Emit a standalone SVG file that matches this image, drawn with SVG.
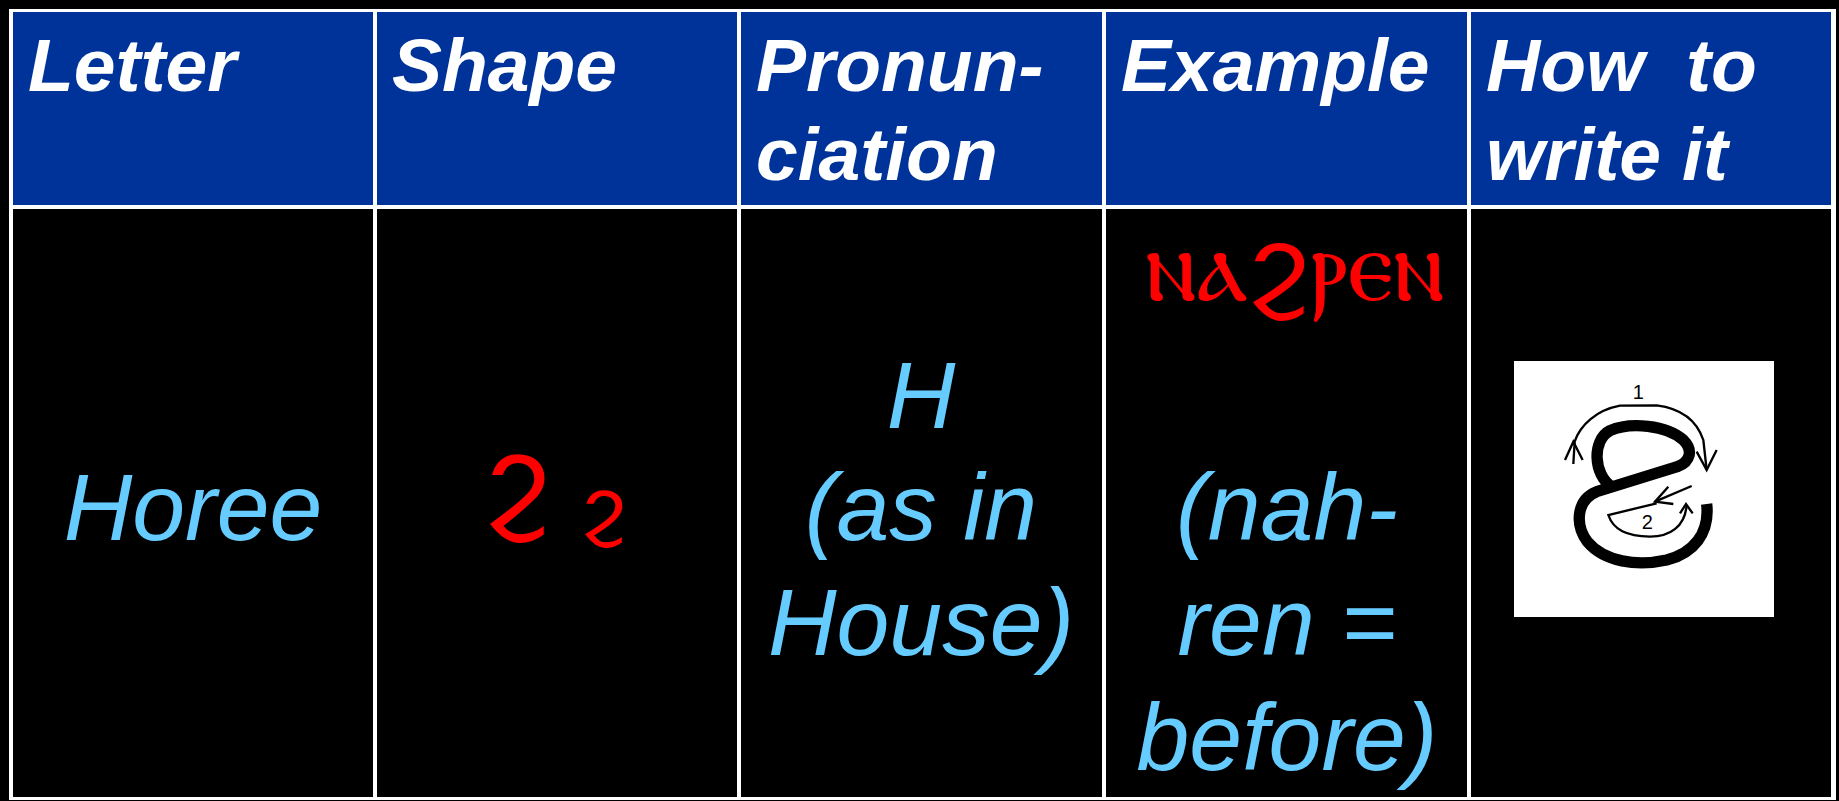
<svg xmlns="http://www.w3.org/2000/svg" width="1839" height="801" viewBox="0 0 1839 801">
<style>
.hd{fill:#003399}
.bd{fill:#000000}
.ht{font-family:"Liberation Sans",Arial,sans-serif;font-weight:bold;font-style:italic;font-size:75px;fill:#ffffff}
.bt{font-family:"Liberation Sans",Arial,sans-serif;font-style:italic;font-size:95px;fill:#66CCFF;text-anchor:middle}
.cop{font-family:"DejaVu Sans","Noto Sans",sans-serif;fill:#FF0000;text-anchor:middle}
.shp{font-family:"DejaVu Sans","Noto Sans",sans-serif;fill:#FF0000;text-anchor:middle}
.thick{fill:none;stroke:#000;stroke-width:34;stroke-linecap:butt;stroke-linejoin:round}
.thin{fill:none;stroke:#000;stroke-width:7;stroke-linecap:butt;stroke-linejoin:miter}
.num{font-family:"Liberation Sans",Arial,sans-serif;font-size:60px;fill:#000;text-anchor:middle}
</style>
<rect width="1839" height="801" fill="#000"/>
<rect x="9" y="9" width="1827" height="791" fill="#fff"/>

<g id="h-letter"><rect class="hd" x="13" y="12" width="360" height="193"/><text class="ht" x="28" y="91">Letter</text></g>
<g id="h-shape"><rect class="hd" x="377" y="12" width="360" height="193"/><text class="ht" x="392" y="91">Shape</text></g>
<g id="h-pron"><rect class="hd" x="741" y="12" width="361" height="193"/><text class="ht" x="756" y="91">Pronun-</text><text class="ht" x="756" y="180">ciation</text></g>
<g id="h-example"><rect class="hd" x="1106" y="12" width="361" height="193"/><text class="ht" x="1121" y="91">Example</text></g>
<g id="h-how"><rect class="hd" x="1471" y="12" width="360" height="193"/><text class="ht" x="1486" y="91" xml:space="preserve">How  to</text><text class="ht" x="1486" y="180">write it</text></g>

<g id="b-letter"><rect class="bd" x="13" y="209" width="360" height="588"/><text class="bt" x="193" y="540">Horee</text></g>
<g id="b-shape"><rect class="bd" x="377" y="209" width="360" height="588"/><text class="shp" x="518" y="524" font-size="92">Ϩ</text><text class="shp" x="604" y="532" font-size="74">ϩ</text></g>
<g id="b-pron"><rect class="bd" x="741" y="209" width="361" height="588"/><text class="bt" x="921" y="428">H</text><text class="bt" x="921" y="540">(as in</text><text class="bt" x="921" y="655">House)</text></g>
<g id="b-example"><rect class="bd" x="1106" y="209" width="361" height="588"/><text class="cop" x="1295" y="300" font-size="102">ⲛⲁϩⲣⲉⲛ</text><text class="bt" x="1287" y="540">(nah-</text><text class="bt" x="1287" y="655">ren =</text><text class="bt" x="1287" y="770">before)</text></g>
<g id="b-how"><rect class="bd" x="1471" y="209" width="360" height="588"/>
<rect x="1514" y="361" width="260" height="256" fill="#fff"/>
<g transform="translate(1480 340) scale(0.33333)">
<path class="thick" d="M395,440 C340,405 335,300 390,272 C450,245 560,255 610,300 C640,330 632,365 592,380 L350,455 C292,478 282,550 322,605 C372,665 470,680 560,660 C640,640 690,580 680,492"/>
<path class="thin" d="M280,372 L284,305 C300,255 350,210 420,197 L530,196 C600,205 650,240 670,300 L680,390"/>
<path class="thin" d="M255,360 L280,305 L308,360"/>
<path class="thin" d="M650,335 L680,390 L710,330"/>
<text class="num" x="475" y="178">1</text>
<path class="thin" d="M635,438 L525,485"/>
<path class="thin" d="M565,440 L525,485 L580,492"/>
<path class="thin" d="M530,490 L385,525 C400,570 440,588 510,590 C570,590 615,560 620,495"/>
<path class="thin" d="M600,520 L618,492 L638,520"/>
<text class="num" x="502" y="567">2</text>
</g>
</g>
</svg>
